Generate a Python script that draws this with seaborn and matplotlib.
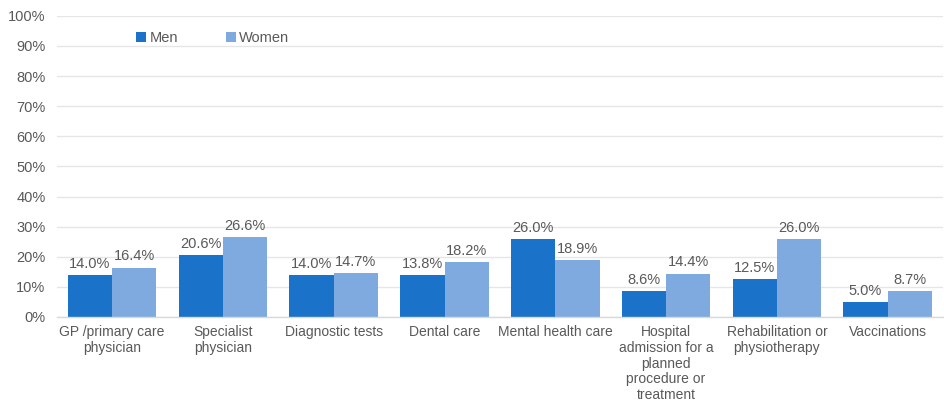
import matplotlib
matplotlib.use("Agg")
import matplotlib.pyplot as plt
import seaborn as sns
import pandas as pd
from matplotlib.ticker import FuncFormatter

categories = ["GP /primary care\nphysician", "Specialist\nphysician", "Diagnostic tests",
              "Dental care", "Mental health care",
              "Hospital\nadmission for a\nplanned\nprocedure or\ntreatment",
              "Rehabilitation or\nphysiotherapy", "Vaccinations"]
men = [14.0, 20.6, 14.0, 13.8, 26.0, 8.6, 12.5, 5.0]
women = [16.4, 26.6, 14.7, 18.2, 18.9, 14.4, 26.0, 8.7]
series = ["Men", "Women"]
colors = ["#1B72C9", "#7FAADF"]

df = pd.DataFrame({
    "category": categories * 2,
    "value": men + women,
    "sex": [series[0]] * len(categories) + [series[1]] * len(categories),
})

sns.set_theme(style="white")
plt.rcParams["font.family"] = ["Liberation Sans", "DejaVu Sans"]

fig = plt.figure(figsize=(9.45, 4.01), dpi=100)
ax = fig.add_axes([0.060, 0.2095, 0.938, 0.751])

sns.barplot(data=df, x="category", y="value", hue="sex", palette=colors,
            width=0.8, ax=ax, saturation=1, edgecolor="none", legend=True)

fs = 10
ax.set_ylim(0, 100)
ax.set_yticks(range(0, 101, 10))
ax.yaxis.set_major_formatter(FuncFormatter(lambda v, p: f"{int(v)}%"))
ax.grid(axis="y", color="#E6E6E6", linewidth=1)
ax.set_axisbelow(True)
for s in ["top", "right", "left"]:
    ax.spines[s].set_visible(False)
ax.spines["bottom"].set_color("#D9D9D9")
ax.spines["bottom"].set_linewidth(1)
ax.set_xlabel("")
ax.set_ylabel("")
ax.tick_params(axis="both", length=0, labelsize=fs + 0.5, labelcolor="#595959")
ax.tick_params(axis="x", labelsize=fs)
ax.tick_params(axis="y", pad=8)
ax.tick_params(axis="x", pad=6)
for lbl in ax.get_xticklabels():
    lbl.set_linespacing(1.15)
ax.set_xlim(-0.5, len(categories) - 0.5)

for cont in ax.containers:
    ax.bar_label(cont, fmt="%.1f%%", padding=3, fontsize=fs + 0.5, color="#595959")

leg = ax.legend(loc="center", bbox_to_anchor=(0.176, 0.925), ncol=2, frameon=False,
                fontsize=fs + 0.5, handlelength=0.7, handleheight=0.7, handletextpad=0.2,
                columnspacing=3.3)
for t in leg.get_texts():
    t.set_color("#595959")

fig.savefig("out.png", dpi=100)
